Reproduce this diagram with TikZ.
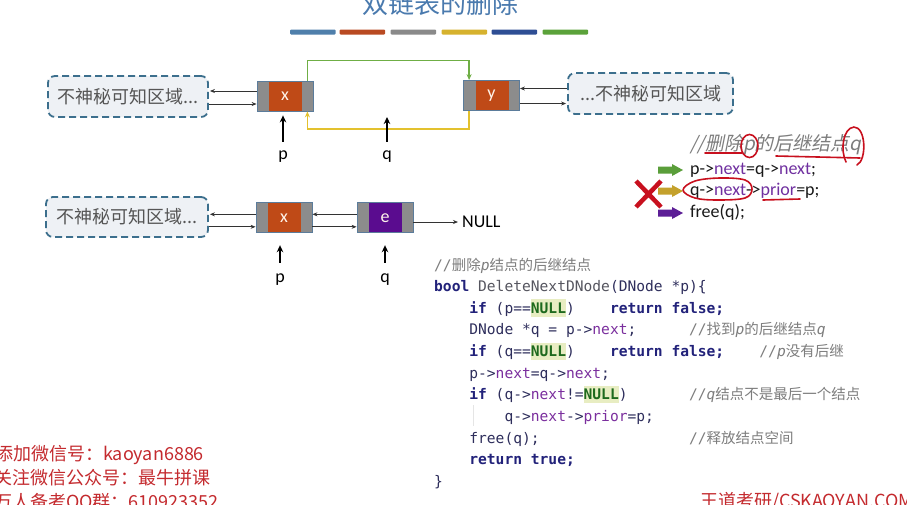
\documentclass[tikz,border=0pt]{standalone}
\usepackage{fontspec}
\setmonofont{DejaVu Sans Mono}
\newfontfamily\cjk{Noto Sans CJK SC}
\newfontfamily\cjkslant{Noto Sans CJK SC}[FakeSlant=0.2]
\newfontfamily\lab{Carlito}
\usetikzlibrary{arrows.meta}

% palette
\definecolor{titleblue}{HTML}{4A7AAE}
\definecolor{bar1}{HTML}{4F7FAB}
\definecolor{bar2}{HTML}{B94A22}
\definecolor{bar3}{HTML}{8A8A8A}
\definecolor{bar4}{HTML}{D6B22E}
\definecolor{bar5}{HTML}{2E4E94}
\definecolor{bar6}{HTML}{5BA23A}
\definecolor{segray}{HTML}{8C8C8C}
\definecolor{nodeedge}{HTML}{5B7C9B}
\definecolor{rust}{HTML}{BF4A17}
\definecolor{grape}{HTML}{5A0C8F}
\definecolor{boxfill}{HTML}{EEF1F5}
\definecolor{boxedge}{HTML}{3C6F8D}
\definecolor{boxtext}{HTML}{555555}
\definecolor{linkgreen}{HTML}{6FAE45}
\definecolor{linkyellow}{HTML}{E3C12E}
\definecolor{kw}{HTML}{22227A}
\definecolor{plain}{HTML}{2E2E5C}
\definecolor{fname}{HTML}{55555F}
\definecolor{field}{HTML}{7B2F9E}
\definecolor{nullgreen}{HTML}{1E6A1E}
\definecolor{nullbg}{HTML}{E8EDC2}
\definecolor{comment}{HTML}{7D7D7D}
\definecolor{inkred}{HTML}{C8101E}
\definecolor{wmred}{HTML}{C42A2E}
\definecolor{arrgreen}{HTML}{5A9E3A}
\definecolor{arryellow}{HTML}{C4A12C}
\definecolor{arrpurple}{HTML}{5C1E96}
\definecolor{annfield}{HTML}{7030A0}
\definecolor{wire}{HTML}{333333}

% code typesetting helpers
\newlength\cw
\setlength\cw{8.79pt}
\newcommand\gapc[1]{\hspace*{#1\cw}}
\newcommand\kwd[1]{{\bfseries\color{kw}#1}}
\newcommand\fld[1]{{\color{field}#1}}
\newcommand\nul{\makebox[0pt][l]{\color{nullbg}\rule[-3.5pt]{4\cw}{17.5pt}}{\bfseries\color{nullgreen}NULL}}
\newcommand\zh[1]{{\cjk\fontsize{14.5}{14.5}\selectfont #1}}
\newcommand\iv[1]{{\itshape #1}}
\newcommand\cm[1]{{\color{comment}//#1}}
\newcommand\af[1]{{\color{annfield}#1}}

\begin{document}
\begin{tikzpicture}[x=1pt,y=-1pt,
  farbox/.style={draw=boxedge, line width=1.8pt, dash pattern=on 7pt off 4pt,
    rounded corners=7pt, fill=boxfill, minimum width=160pt, minimum height=41pt,
    inner sep=0, text=boxtext, font=\cjk\fontsize{18}{18}\selectfont},
  dnode/.style={draw=nodeedge, line width=0.8pt, fill=segray, minimum width=56pt,
    minimum height=30pt, inner sep=0, text=white!92!orange,
    font=\lab\fontsize{18}{18}\selectfont,
    path picture={\fill[#1] ([xshift=12pt]path picture bounding box.south west)
      rectangle ([xshift=-11pt]path picture bounding box.north east);}},
  lbl/.style={inner sep=0, font=\lab\fontsize{18}{18}\selectfont, text=black},
  fine/.style={draw=wire, line width=0.8pt, -{Stealth[length=5pt,width=4pt]}},
  ptr/.style={draw=black, line width=1.8pt, -{Stealth[length=7pt,width=6.5pt]}},
  glink/.style={draw=linkgreen, line width=1.7pt, -{Stealth[length=6pt,width=5pt]}},
  ylink/.style={draw=linkyellow, line width=1.7pt, -{Stealth[length=6pt,width=5pt]}},
  codeline/.style={anchor=base west, inner sep=0,
    font=\ttfamily\fontsize{14.6}{14.6}\selectfont, text=plain},
  ann/.style={anchor=base west, inner sep=0, font=\lab\fontsize{18}{18}\selectfont, text=black!90},
  ink/.style={draw=inkred, line width=1.6pt, line cap=round, line join=round},
  wm/.style={anchor=base west, inner sep=0, font=\cjk\fontsize{18}{18}\selectfont, text=wmred},
]
\useasboundingbox (0,0) rectangle (907,504);
\fill[white] (0,0) rectangle (907,504);

% heading and colour strip
\node[anchor=base, inner sep=0, font=\cjk\fontsize{26}{26}\selectfont, text=titleblue] (title) at (440,13) {双链表的删除};
\foreach \c/\x in {bar1/290, bar2/339.5, bar3/390.5, bar4/441.5, bar5/491.5, bar6/542.5}
  \fill[\c, rounded corners=1pt] (\x,29.5) rectangle ++(45.5,5);

% ---- upper list: p -> q -> y, q being unlinked ----
\node[farbox] (lfar) at (128,96.5) {不神秘可知区域...};
\node[dnode=rust] (xa) at (285,96) {x};
\node[dnode=rust] (ya) at (491.5,95.5) {y};
\node[farbox, minimum width=165pt] (rfar) at (650.5,93.5) {...不神秘可知区域};

\draw[fine, shorten >=1pt] ([yshift=5pt]xa.west) -- ([yshift=5pt]xa.west -| lfar.east);
\draw[fine] ([yshift=-8pt]xa.west -| lfar.east) -- ([yshift=-8pt]xa.west);
\draw[fine] ([yshift=7pt]ya.east -| rfar.west) -- ([yshift=7pt]ya.east);
\draw[fine, shorten >=1pt] ([yshift=-8pt]ya.east) -- ([yshift=-8pt]ya.east -| rfar.west);

\draw[glink] ([xshift=-6pt]xa.north east) -- ++(0,-20) -| ([xshift=6pt]ya.north west);
\draw[ylink] ([xshift=6pt]ya.south west) -- ++(0,18) -| ([xshift=-6pt]xa.south east);

\node[lbl] (pa) at (283,157) {p};
\node[lbl] (qa) at (387,157) {q};
\coordinate (qtip) at (387,117);
\draw[ptr, shorten <=9pt, shorten >=4pt] (pa) -- (pa |- xa.south);
\draw[ptr, shorten <=9pt] (qa) -- (qtip);

% ---- annotated statements ----
\node[anchor=base west, inner sep=0, font=\cjkslant\fontsize{19}{19}\selectfont, text=comment] (annhead) at (690,150) {//删除p的后继结点q};
\node[ann] (ann1) at (690,174) {p->\af{next}=q->\af{next};};
\node[ann] (ann2) at (690,195.5) {q->\af{next}->\af{prior}=p;};
\node[ann] (ann3) at (690,217.5) {free(q);};

\fill[arrgreen] (658,166.5) -- (672,166.5) -- (672,164) -- (683,170) -- (672,176) -- (672,173.5) -- (658,173.5) -- cycle;
\fill[arryellow] (658,187.5) -- (672,187.5) -- (672,185) -- (683,191) -- (672,197) -- (672,194.5) -- (658,194.5) -- cycle;
\fill[arrpurple] (658,209.5) -- (672,209.5) -- (672,207) -- (683,213) -- (672,219) -- (672,216.5) -- (658,216.5) -- cycle;

% red pen marks
\draw[inkred, line width=4.5pt] (636,181) -- (661,207) (661,181) -- (636,207);
\draw[ink] (705,153) -- (742,153);
\draw[ink] (749.5,146) ellipse [x radius=8.5, y radius=11.5];
\draw[ink] (776,156) -- (860,158);
\draw[ink] (846,162) .. controls (840,150) and (843,128) .. (854,127)
  .. controls (866,127) and (867,160) .. (857,165);
\draw[ink] plot[smooth cycle, tension=0.6] coordinates {(683,190) (695,181) (720,178) (745,180) (752,189) (745,198) (718,200) (695,198)};
\draw[ink] (763,200) -- (800,199);

% ---- lower list: q is the last node ----
\node[farbox, minimum width=162pt, minimum height=40pt] (lfar2) at (127,217) {不神秘可知区域...};
\node[dnode=rust] (xb) at (284,217.8) {x};
\node[dnode=grape] (eb) at (385,217.8) {e};
\node[lbl, anchor=west] (nullb) at (462,222) {NULL};

\draw[fine, shorten >=1pt] ([yshift=3.5pt]xb.west) -- ([yshift=3.5pt]xb.west -| lfar2.east);
\draw[fine] ([yshift=-9pt]xb.west -| lfar2.east) -- ([yshift=-9pt]xb.west);
\draw[fine] ([yshift=3.5pt]eb.west) -- ([yshift=3.5pt]xb.east);
\draw[fine] ([yshift=-9pt]xb.east) -- ([yshift=-9pt]eb.west);
\draw[fine, shorten >=4pt] (eb.east |- nullb.west) -- (nullb.west);

\node[lbl] (pb) at (280,280) {p};
\node[lbl] (qb) at (385,280) {q};
\draw[ptr, shorten <=11pt, shorten >=12pt] (pb) -- (pb |- xb.south);
\draw[ptr, shorten <=11pt, shorten >=12pt] (qb) -- (qb |- eb.south);

% ---- source listing ----
\node[codeline] (c1) at (434,270) {\cm{\zh{删除}\iv{p}\zh{结点的后继结点}}};
\node[codeline] (c2) at (434,291.65) {\kwd{bool} {\color{fname}DeleteNextDNode}(DNode *p)\{};
\node[codeline] (c3) at (434,313.3) {\gapc{4}\kwd{if} (p==\nul)\gapc{4}\kwd{return false;}};
\node[codeline] (c4) at (434,334.95) {\gapc{4}DNode *q = p->\fld{next};\gapc{6}\cm{\zh{找到}\iv{p}\zh{的后继结点}\iv{q}}};
\node[codeline] (c5) at (434,356.6) {\gapc{4}\kwd{if} (q==\nul)\gapc{4}\kwd{return false;}\gapc{4}\cm{\iv{p}\zh{没有后继}}};
\node[codeline] (c6) at (434,378.25) {\gapc{4}p->\fld{next}=q->\fld{next};};
\node[codeline] (c7) at (434,399.9) {\gapc{4}\kwd{if} (q->\fld{next}!=\nul)\gapc{7}\cm{\iv{q}\zh{结点不是最后一个结点}}};
\node[codeline] (c8) at (434,421.55) {\gapc{8}q->\fld{next}->\fld{prior}=p;};
\node[codeline] (c9) at (434,443.2) {\gapc{4}free(q);\gapc{17}\cm{\zh{释放结点空间}}};
\node[codeline] (c10) at (434,464.85) {\gapc{4}\kwd{return true;}};
\node[codeline] (c11) at (434,486.5) {\}};
\draw[black!10, line width=1pt] (473,405) -- (473,426);

% ---- footer notes ----
\node[wm] (wm1) at (-5,460) {添加微信号：kaoyan6886};
\node[wm] (wm2) at (-6,484) {关注微信公众号：最牛拼课};
\node[wm] (wm3) at (-6,508) {万人备考QQ群：610923352};
\node[wm] (site) at (700,507) {王道考研/CSKAOYAN.COM};
\end{tikzpicture}
\end{document}
